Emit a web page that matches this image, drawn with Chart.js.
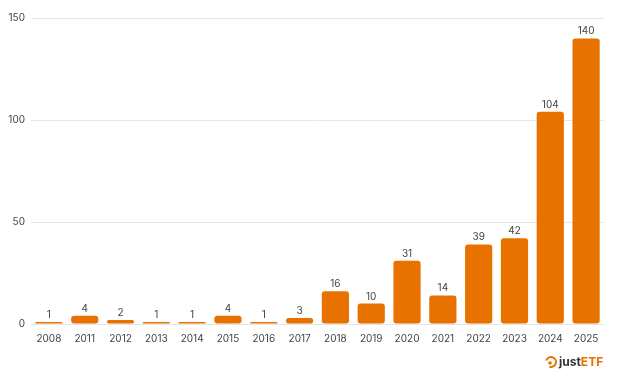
<!DOCTYPE html>
<html>
<head>
<meta charset="utf-8">
<script src="https://cdn.jsdelivr.net/npm/chart.js@4"></script>
<style>
  html, body { margin: 0; padding: 0; background: #fff; }
  #wrap { width: 619px; height: 381px; position: relative; }
</style>
</head>
<body>
<div id="wrap"><canvas id="grafico" width="619" height="381"></canvas></div>
<script>
// Dados do gráfico
const anos = ['2008', '2011', '2012', '2013', '2014', '2015', '2016', '2017',
              '2018', '2019', '2020', '2021', '2022', '2023', '2024', '2025'];
const valores = [1, 4, 2, 1, 1, 4, 1, 3, 16, 10, 31, 14, 39, 42, 104, 140];
const ticksY = [0, 50, 100, 150];

const laranja = '#E87200';

// Rótulos acima das barras
const rotulosPlugin = {
    id: 'rotulos',
    afterDatasetsDraw(chart) {
        const ctx = chart.ctx;
        const meta = chart.getDatasetMeta(0);
        ctx.save();
        ctx.font = '10px Inter, "Open Sans", sans-serif';
        ctx.fillStyle = '#444';
        ctx.textAlign = 'center';
        ctx.textBaseline = 'bottom';
        meta.data.forEach((bar, i) => {
            ctx.fillText(valores[i], bar.x, bar.y - 2);
        });
        ctx.restore();
    }
};

// Logo justETF no canto
const logoPlugin = {
    id: 'logo',
    afterDraw(chart) {
        const ctx = chart.ctx;
        ctx.save();
        const x = 551, y = 362;
        ctx.strokeStyle = laranja;
        ctx.lineWidth = 2;
        ctx.beginPath();
        ctx.arc(x, y, 5, Math.PI * 1.1, Math.PI * 2.6);
        ctx.stroke();
        ctx.fillStyle = laranja;
        ctx.beginPath();
        ctx.arc(x - 1, y + 1, 1.8, 0, Math.PI * 2);
        ctx.fill();
        ctx.font = 'bold 12px Inter, "Open Sans", sans-serif';
        ctx.textBaseline = 'middle';
        ctx.textAlign = 'left';
        ctx.fillStyle = '#333';
        ctx.fillText('just', x + 8, y);
        const w = ctx.measureText('just').width;
        ctx.fillStyle = laranja;
        ctx.fillText('ETF', x + 8 + w, y);
        ctx.restore();
    }
};

const ctx = document.getElementById('grafico').getContext('2d');
const grafico = new Chart(ctx, {
    type: 'bar',
    data: {
        labels: anos,
        datasets: [{
            data: valores,
            backgroundColor: laranja,
            borderRadius: 3,
            borderSkipped: false,
            categoryPercentage: 1,
            barPercentage: 0.76
        }]
    },
    options: {
        responsive: false,
        animation: false,
        layout: { padding: { top: 18, right: 15, bottom: 35, left: 4 } },
        plugins: {
            legend: { display: false },
            tooltip: { enabled: false }
        },
        scales: {
            x: {
                grid: { display: false },
                border: { display: false },
                ticks: {
                    color: '#444',
                    font: { size: 10, family: 'Inter, "Open Sans", sans-serif' },
                    padding: 1,
                    maxRotation: 0,
                    autoSkip: false
                }
            },
            y: {
                min: 0,
                max: 150,
                afterBuildTicks(axis) {
                    axis.ticks = ticksY.map(v => ({ value: v }));
                },
                afterFit(axis) { axis.width = 27; },
                grid: { color: '#e6e6e6', drawTicks: false },
                border: { display: false },
                ticks: {
                    color: '#444',
                    font: { size: 10, family: 'Inter, "Open Sans", sans-serif' },
                    padding: 6
                }
            }
        }
    },
    plugins: [rotulosPlugin, logoPlugin]
});
</script>
</body>
</html>
